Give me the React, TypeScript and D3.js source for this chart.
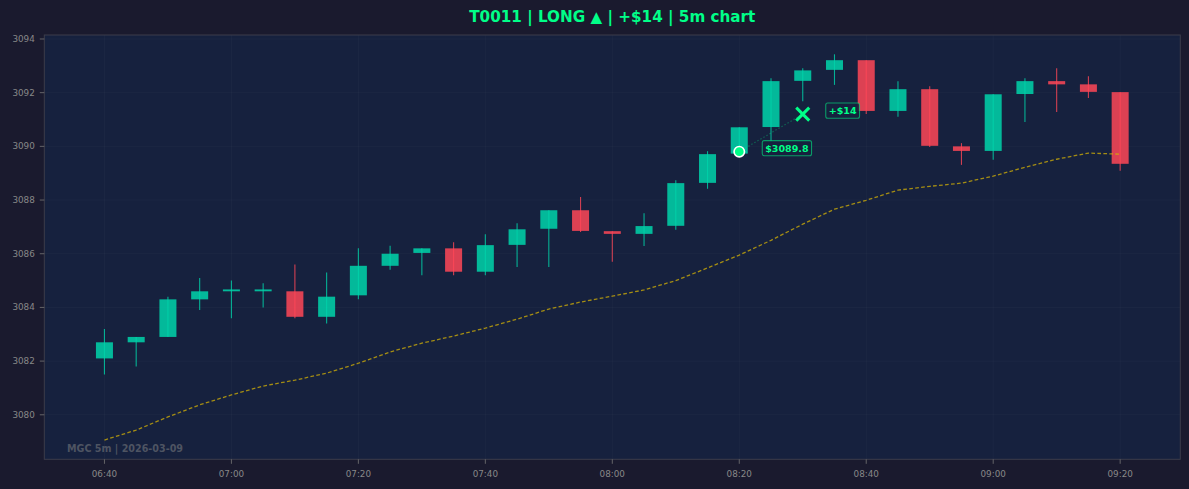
import React from "react";
import * as d3 from "d3";

const times = ["06:40","06:45","06:50","06:55","07:00","07:05","07:10","07:15","07:20","07:25","07:30","07:35","07:40","07:45","07:50","07:55","08:00","08:05","08:10","08:15","08:20","08:25","08:30","08:35","08:40","08:45","08:50","08:55","09:00","09:05","09:10","09:15","09:20"];
const opens = [3082.1,3082.7,3082.9,3084.3,3084.6,3084.6,3084.6,3083.65,3084.45,3085.55,3086.03,3086.2,3085.33,3086.33,3086.93,3087.62,3086.84,3086.74,3087.04,3088.64,3089.73,3090.72,3092.44,3092.85,3093.21,3091.32,3092.13,3090.0,3089.83,3091.95,3092.43,3092.31,3092.02];
const highs = [3083.2,3082.9,3084.4,3085.1,3085.0,3084.9,3085.6,3085.3,3086.2,3086.3,3086.2,3086.43,3086.73,3087.14,3087.62,3088.11,3086.84,3087.51,3088.74,3089.82,3090.71,3092.54,3092.91,3093.43,3093.21,3092.43,3092.24,3090.12,3091.94,3092.54,3092.91,3092.61,3092.02];
const lows = [3081.5,3081.8,3082.9,3083.9,3083.6,3084.0,3083.6,3083.4,3084.3,3085.4,3085.2,3085.2,3085.2,3085.51,3085.51,3086.81,3085.7,3086.29,3086.89,3088.42,3089.7,3090.19,3091.68,3092.29,3091.21,3091.1,3089.98,3089.31,3089.5,3090.91,3091.28,3091.8,3089.09];
const closes = [3082.7,3082.9,3084.3,3084.6,3084.67,3084.67,3083.65,3084.4,3085.55,3086.0,3086.2,3085.33,3086.32,3086.91,3087.62,3086.85,3086.74,3087.03,3088.63,3089.71,3090.71,3092.43,3092.83,3093.21,3091.32,3092.13,3090.02,3089.83,3091.94,3092.43,3092.31,3092.03,3089.35];
const maValues = [3079.06,3079.43,3079.92,3080.37,3080.74,3081.07,3081.29,3081.55,3081.92,3082.34,3082.67,3082.93,3083.23,3083.56,3083.94,3084.2,3084.42,3084.65,3085.0,3085.47,3085.95,3086.5,3087.1,3087.66,3087.99,3088.37,3088.51,3088.63,3088.89,3089.22,3089.52,3089.75,3089.71];

const entryTime = "08:20";
const entryPrice = 3089.8;
const exitTime = "08:30";
const exitPrice = 3091.2;
const entryLabel = "$3089.8";
const exitLabel = "+$14";
const title = "T0011 | LONG ▲ | +$14 | 5m chart";
const watermark = "MGC 5m | 2026-03-09";

const W = 1189, H = 489;
const M = { left: 44.3, right: 1180.3, top: 35, bottom: 459.3 };
const GREEN = "#00d4aa";
const RED = "#ff4757";
const ACCENT = "#00ff88";
const FONT = "'DejaVu Sans', sans-serif";

const charW: Record<string, number> = { "+": 0.838, "$": 0.696, ".": 0.38 };
const textWidth = (s: string, fs: number) =>
  s.split("").reduce((a, ch) => a + (charW[ch] ?? 0.696), 0) * fs;

export default function App() {
  const parse = d3.timeParse("%H:%M");
  const t = times.map((s) => parse(s) as Date);
  const halfW = 1.34 * 60 * 1000;
  const t0 = +t[0] - halfW, t1 = +t[t.length - 1] + halfW;
  const padX = (t1 - t0) * 0.05;
  const x = d3.scaleTime().domain([new Date(t0 - padX), new Date(t1 + padX)]).range([M.left, M.right]);

  const lo = Math.min(d3.min(lows)!, d3.min(maValues)!);
  const hi = Math.max(d3.max(highs)!, d3.max(maValues)!);
  const padY = (hi - lo) * 0.05;
  const y = d3.scaleLinear().domain([lo - padY, hi + padY]).range([M.bottom, M.top]);

  const xTicks = d3.timeMinute.every(20)!.range(new Date(t0 - padX), new Date(t1 + padX));
  const yTicks = d3.range(3080, 3094.01, 2);
  const fmt = d3.timeFormat("%H:%M");

  const bodyW = x(new Date(+t[0] + halfW)) - x(new Date(+t[0] - halfW));

  const maLine = d3.line<number>().x((_, i) => x(t[i])).y((v) => y(v));

  const ex = x(parse(entryTime) as Date), ey = y(entryPrice);
  const xx = x(parse(exitTime) as Date), xy = y(exitPrice);

  const labelBox = (lx: number, cy: number, text: string) => {
    const fs = 9.5;
    const w = textWidth(text, fs) + 6;
    return (
      <g>
        <rect x={lx} y={cy - 7.6} width={w} height={15.2} rx={2} fill="#16213e" fillOpacity={0.85} stroke={ACCENT} strokeOpacity={0.55} strokeWidth={1.1} />
        <text x={lx + w / 2} y={cy} dy="0.35em" textAnchor="middle" fill={ACCENT} fontFamily={FONT} fontWeight="bold" fontSize={fs}>{text}</text>
      </g>
    );
  };

  return (
    <svg width={W} height={H} style={{ position: "absolute", left: 0, top: 0, display: "block" }}>
      <rect x={0} y={0} width={W} height={H} fill="#1a1a2e" />
      <rect x={M.left} y={M.top} width={M.right - M.left} height={M.bottom - M.top} fill="#16213e" />
      {xTicks.map((d, i) => (
        <line key={"gx" + i} x1={x(d)} x2={x(d)} y1={M.top} y2={M.bottom} stroke="#ffffff" strokeOpacity={0.035} strokeWidth={0.8} />
      ))}
      {yTicks.map((v, i) => (
        <line key={"gy" + i} x1={M.left} x2={M.right} y1={y(v)} y2={y(v)} stroke="#ffffff" strokeOpacity={0.035} strokeWidth={0.8} />
      ))}
      {t.map((d, i) => {
        const up = closes[i] >= opens[i];
        const c = up ? GREEN : RED;
        const cx = x(d);
        const top = y(Math.max(opens[i], closes[i]));
        const bot = y(Math.min(opens[i], closes[i]));
        return (
          <g key={"c" + i}>
            <line x1={cx} x2={cx} y1={y(highs[i])} y2={y(lows[i])} stroke={c} strokeOpacity={0.8} strokeWidth={1.1} />
            <rect x={cx - bodyW / 2} y={top} width={bodyW} height={Math.max(bot - top, 1.5)} fill={c} fillOpacity={0.85} />
          </g>
        );
      })}
      <path d={maLine(maValues) || ""} fill="none" stroke="#d4b106" strokeOpacity={0.75} strokeWidth={1.3} strokeDasharray="3.7 2.3" />
      <line x1={ex} y1={ey} x2={xx} y2={xy} stroke={ACCENT} strokeOpacity={0.3} strokeWidth={1.2} strokeDasharray="1.5 2" />
      <circle cx={ex} cy={ey} r={5.2} fill={ACCENT} stroke="#ffffff" strokeWidth={1.6} />
      <g stroke={ACCENT} strokeWidth={3} strokeLinecap="butt">
        <line x1={xx - 6.5} y1={xy - 6.5} x2={xx + 6.5} y2={xy + 6.5} />
        <line x1={xx - 6.5} y1={xy + 6.5} x2={xx + 6.5} y2={xy - 6.5} />
      </g>
      {labelBox(ex + 23, ey - 3.5, entryLabel)}
      {labelBox(xx + 23, xy - 3.5, exitLabel)}
      <text x={67} y={452} fill="#4e5462" fontFamily={FONT} fontWeight="bold" fontSize={9.6}>{watermark}</text>
      <rect x={M.left} y={M.top} width={M.right - M.left} height={M.bottom - M.top} fill="none" stroke="#3c3c4a" strokeWidth={1} />
      {yTicks.map((v, i) => (
        <g key={"yt" + i}>
          <line x1={M.left - 4.5} x2={M.left} y1={y(v)} y2={y(v)} stroke="#777" strokeWidth={0.8} />
          <text x={M.left - 9.5} y={y(v)} dy="0.35em" textAnchor="end" fill="#888" fontFamily={FONT} fontSize={8.8}>{v}</text>
        </g>
      ))}
      {xTicks.map((d, i) => (
        <g key={"xt" + i}>
          <line x1={x(d)} x2={x(d)} y1={M.bottom} y2={M.bottom + 4.5} stroke="#777" strokeWidth={0.8} />
          <text x={x(d)} y={M.bottom + 15} dy="0.35em" textAnchor="middle" fill="#888" fontFamily={FONT} fontSize={8.8}>{fmt(d)}</text>
        </g>
      ))}
      <text x={(M.left + M.right) / 2} y={22} textAnchor="middle" fill={ACCENT} fontFamily={FONT} fontWeight="bold" fontSize={15.2}>{title}</text>
    </svg>
  );
}
